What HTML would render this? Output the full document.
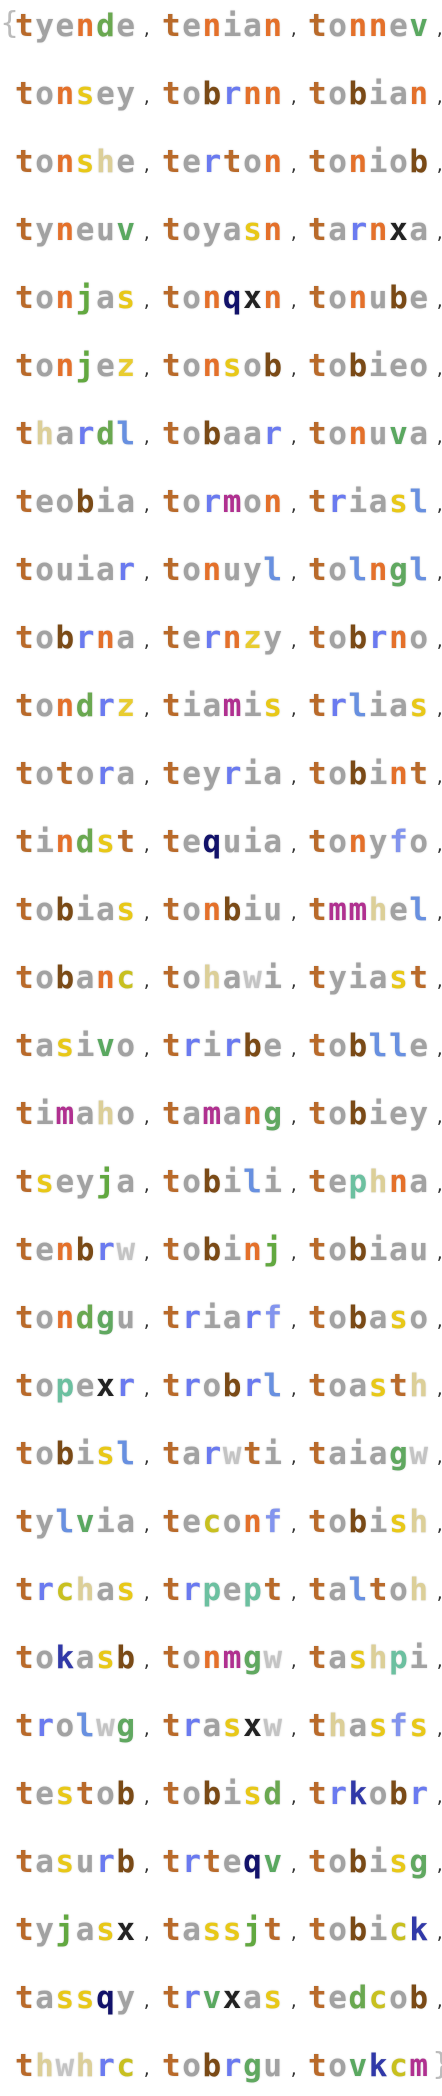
<!DOCTYPE html>
<html><head><meta charset="utf-8"><style>
html,body{margin:0;padding:0;background:#fff;width:442px;height:2096px;overflow:hidden}
body{position:relative;font-family:"DejaVu Sans Mono","Liberation Mono",monospace;font-weight:bold}
.row{position:absolute;left:0;width:442px;height:31px;font-size:31px;line-height:31px;white-space:pre}
.wd{position:absolute;top:0;letter-spacing:1.6px;text-shadow:0 0 2px #e4e4e4,0 0 1px #ddd}
.a1{left:15px}.a2{left:162px}.a3{left:308px}
.cm{position:absolute;top:3px;font-size:16px;color:#333;font-weight:normal}
.c1{left:142px}.c2{left:289px}.c3{left:435px}
.br{position:absolute;font-size:30px;color:#bbb;font-weight:normal;font-family:"DejaVu Sans",sans-serif}
.wd b{font-weight:bold}
.wd .t{color:#b96a2a}.wd .o,.wd .e,.wd .y,.wd .a,.wd .i,.wd .u{color:#a2a2a2}.wd .n{color:#e4702a}.wd .d{color:#6aa850}.wd .v{color:#5aa860}
.wd .s{color:#e8c818}.wd .z{color:#e8cc30}.wd .b{color:#7a4a16}.wd .r{color:#6a7af0}.wd .l{color:#6890e0}.wd .h{color:#dccf98}
.wd .j{color:#62a840}.wd .x{color:#222}.wd .q{color:#12126a}.wd .m{color:#b03090}.wd .g{color:#60a860}.wd .ww{color:#c4c4c4}
.wd .f{color:#8294ee}.wd .k{color:#3038a8}.wd .c{color:#c8c020}.wd .p{color:#6cc0a0}
</style></head><body>
<div class="br" style="left:0;top:6px">{</div>
<div class="br" style="left:432px;top:2047px">}</div>

<div class="row" style="top:11px"><span class="wd a1"><b class=t>t</b><b class=y>y</b><b class=e>e</b><b class=n>n</b><b class=d>d</b><b class=e>e</b></span><span class="cm c1">,</span><span class="wd a2"><b class=t>t</b><b class=e>e</b><b class=n>n</b><b class=i>i</b><b class=a>a</b><b class=n>n</b></span><span class="cm c2">,</span><span class="wd a3"><b class=t>t</b><b class=o>o</b><b class=n>n</b><b class=n>n</b><b class=e>e</b><b class=v>v</b></span><span class="cm c3">,</span></div>
<div class="row" style="top:79px"><span class="wd a1"><b class=t>t</b><b class=o>o</b><b class=n>n</b><b class=s>s</b><b class=e>e</b><b class=y>y</b></span><span class="cm c1">,</span><span class="wd a2"><b class=t>t</b><b class=o>o</b><b class=b>b</b><b class=r>r</b><b class=n>n</b><b class=n>n</b></span><span class="cm c2">,</span><span class="wd a3"><b class=t>t</b><b class=o>o</b><b class=b>b</b><b class=i>i</b><b class=a>a</b><b class=n>n</b></span><span class="cm c3">,</span></div>
<div class="row" style="top:147px"><span class="wd a1"><b class=t>t</b><b class=o>o</b><b class=n>n</b><b class=s>s</b><b class=h>h</b><b class=e>e</b></span><span class="cm c1">,</span><span class="wd a2"><b class=t>t</b><b class=e>e</b><b class=r>r</b><b class=t>t</b><b class=o>o</b><b class=n>n</b></span><span class="cm c2">,</span><span class="wd a3"><b class=t>t</b><b class=o>o</b><b class=n>n</b><b class=i>i</b><b class=o>o</b><b class=b>b</b></span><span class="cm c3">,</span></div>
<div class="row" style="top:215px"><span class="wd a1"><b class=t>t</b><b class=y>y</b><b class=n>n</b><b class=e>e</b><b class=u>u</b><b class=v>v</b></span><span class="cm c1">,</span><span class="wd a2"><b class=t>t</b><b class=o>o</b><b class=y>y</b><b class=a>a</b><b class=s>s</b><b class=n>n</b></span><span class="cm c2">,</span><span class="wd a3"><b class=t>t</b><b class=a>a</b><b class=r>r</b><b class=n>n</b><b class=x>x</b><b class=a>a</b></span><span class="cm c3">,</span></div>
<div class="row" style="top:283px"><span class="wd a1"><b class=t>t</b><b class=o>o</b><b class=n>n</b><b class=j>j</b><b class=a>a</b><b class=s>s</b></span><span class="cm c1">,</span><span class="wd a2"><b class=t>t</b><b class=o>o</b><b class=n>n</b><b class=q>q</b><b class=x>x</b><b class=n>n</b></span><span class="cm c2">,</span><span class="wd a3"><b class=t>t</b><b class=o>o</b><b class=n>n</b><b class=u>u</b><b class=b>b</b><b class=e>e</b></span><span class="cm c3">,</span></div>
<div class="row" style="top:351px"><span class="wd a1"><b class=t>t</b><b class=o>o</b><b class=n>n</b><b class=j>j</b><b class=e>e</b><b class=z>z</b></span><span class="cm c1">,</span><span class="wd a2"><b class=t>t</b><b class=o>o</b><b class=n>n</b><b class=s>s</b><b class=o>o</b><b class=b>b</b></span><span class="cm c2">,</span><span class="wd a3"><b class=t>t</b><b class=o>o</b><b class=b>b</b><b class=i>i</b><b class=e>e</b><b class=o>o</b></span><span class="cm c3">,</span></div>
<div class="row" style="top:419px"><span class="wd a1"><b class=t>t</b><b class=h>h</b><b class=a>a</b><b class=r>r</b><b class=d>d</b><b class=l>l</b></span><span class="cm c1">,</span><span class="wd a2"><b class=t>t</b><b class=o>o</b><b class=b>b</b><b class=a>a</b><b class=a>a</b><b class=r>r</b></span><span class="cm c2">,</span><span class="wd a3"><b class=t>t</b><b class=o>o</b><b class=n>n</b><b class=u>u</b><b class=v>v</b><b class=a>a</b></span><span class="cm c3">,</span></div>
<div class="row" style="top:487px"><span class="wd a1"><b class=t>t</b><b class=e>e</b><b class=o>o</b><b class=b>b</b><b class=i>i</b><b class=a>a</b></span><span class="cm c1">,</span><span class="wd a2"><b class=t>t</b><b class=o>o</b><b class=r>r</b><b class=m>m</b><b class=o>o</b><b class=n>n</b></span><span class="cm c2">,</span><span class="wd a3"><b class=t>t</b><b class=r>r</b><b class=i>i</b><b class=a>a</b><b class=s>s</b><b class=l>l</b></span><span class="cm c3">,</span></div>
<div class="row" style="top:555px"><span class="wd a1"><b class=t>t</b><b class=o>o</b><b class=u>u</b><b class=i>i</b><b class=a>a</b><b class=r>r</b></span><span class="cm c1">,</span><span class="wd a2"><b class=t>t</b><b class=o>o</b><b class=n>n</b><b class=u>u</b><b class=y>y</b><b class=l>l</b></span><span class="cm c2">,</span><span class="wd a3"><b class=t>t</b><b class=o>o</b><b class=l>l</b><b class=n>n</b><b class=g>g</b><b class=l>l</b></span><span class="cm c3">,</span></div>
<div class="row" style="top:623px"><span class="wd a1"><b class=t>t</b><b class=o>o</b><b class=b>b</b><b class=r>r</b><b class=n>n</b><b class=a>a</b></span><span class="cm c1">,</span><span class="wd a2"><b class=t>t</b><b class=e>e</b><b class=r>r</b><b class=n>n</b><b class=z>z</b><b class=y>y</b></span><span class="cm c2">,</span><span class="wd a3"><b class=t>t</b><b class=o>o</b><b class=b>b</b><b class=r>r</b><b class=n>n</b><b class=o>o</b></span><span class="cm c3">,</span></div>
<div class="row" style="top:691px"><span class="wd a1"><b class=t>t</b><b class=o>o</b><b class=n>n</b><b class=d>d</b><b class=r>r</b><b class=z>z</b></span><span class="cm c1">,</span><span class="wd a2"><b class=t>t</b><b class=i>i</b><b class=a>a</b><b class=m>m</b><b class=i>i</b><b class=s>s</b></span><span class="cm c2">,</span><span class="wd a3"><b class=t>t</b><b class=r>r</b><b class=l>l</b><b class=i>i</b><b class=a>a</b><b class=s>s</b></span><span class="cm c3">,</span></div>
<div class="row" style="top:759px"><span class="wd a1"><b class=t>t</b><b class=o>o</b><b class=t>t</b><b class=o>o</b><b class=r>r</b><b class=a>a</b></span><span class="cm c1">,</span><span class="wd a2"><b class=t>t</b><b class=e>e</b><b class=y>y</b><b class=r>r</b><b class=i>i</b><b class=a>a</b></span><span class="cm c2">,</span><span class="wd a3"><b class=t>t</b><b class=o>o</b><b class=b>b</b><b class=i>i</b><b class=n>n</b><b class=t>t</b></span><span class="cm c3">,</span></div>
<div class="row" style="top:827px"><span class="wd a1"><b class=t>t</b><b class=i>i</b><b class=n>n</b><b class=d>d</b><b class=s>s</b><b class=t>t</b></span><span class="cm c1">,</span><span class="wd a2"><b class=t>t</b><b class=e>e</b><b class=q>q</b><b class=u>u</b><b class=i>i</b><b class=a>a</b></span><span class="cm c2">,</span><span class="wd a3"><b class=t>t</b><b class=o>o</b><b class=n>n</b><b class=y>y</b><b class=f>f</b><b class=o>o</b></span><span class="cm c3">,</span></div>
<div class="row" style="top:895px"><span class="wd a1"><b class=t>t</b><b class=o>o</b><b class=b>b</b><b class=i>i</b><b class=a>a</b><b class=s>s</b></span><span class="cm c1">,</span><span class="wd a2"><b class=t>t</b><b class=o>o</b><b class=n>n</b><b class=b>b</b><b class=i>i</b><b class=u>u</b></span><span class="cm c2">,</span><span class="wd a3"><b class=t>t</b><b class=m>m</b><b class=m>m</b><b class=h>h</b><b class=e>e</b><b class=l>l</b></span><span class="cm c3">,</span></div>
<div class="row" style="top:963px"><span class="wd a1"><b class=t>t</b><b class=o>o</b><b class=b>b</b><b class=a>a</b><b class=n>n</b><b class=c>c</b></span><span class="cm c1">,</span><span class="wd a2"><b class=t>t</b><b class=o>o</b><b class=h>h</b><b class=a>a</b><b class=ww>w</b><b class=i>i</b></span><span class="cm c2">,</span><span class="wd a3"><b class=t>t</b><b class=y>y</b><b class=i>i</b><b class=a>a</b><b class=s>s</b><b class=t>t</b></span><span class="cm c3">,</span></div>
<div class="row" style="top:1031px"><span class="wd a1"><b class=t>t</b><b class=a>a</b><b class=s>s</b><b class=i>i</b><b class=v>v</b><b class=o>o</b></span><span class="cm c1">,</span><span class="wd a2"><b class=t>t</b><b class=r>r</b><b class=i>i</b><b class=r>r</b><b class=b>b</b><b class=e>e</b></span><span class="cm c2">,</span><span class="wd a3"><b class=t>t</b><b class=o>o</b><b class=b>b</b><b class=l>l</b><b class=l>l</b><b class=e>e</b></span><span class="cm c3">,</span></div>
<div class="row" style="top:1099px"><span class="wd a1"><b class=t>t</b><b class=i>i</b><b class=m>m</b><b class=a>a</b><b class=h>h</b><b class=o>o</b></span><span class="cm c1">,</span><span class="wd a2"><b class=t>t</b><b class=a>a</b><b class=m>m</b><b class=a>a</b><b class=n>n</b><b class=g>g</b></span><span class="cm c2">,</span><span class="wd a3"><b class=t>t</b><b class=o>o</b><b class=b>b</b><b class=i>i</b><b class=e>e</b><b class=y>y</b></span><span class="cm c3">,</span></div>
<div class="row" style="top:1167px"><span class="wd a1"><b class=t>t</b><b class=s>s</b><b class=e>e</b><b class=y>y</b><b class=j>j</b><b class=a>a</b></span><span class="cm c1">,</span><span class="wd a2"><b class=t>t</b><b class=o>o</b><b class=b>b</b><b class=i>i</b><b class=l>l</b><b class=i>i</b></span><span class="cm c2">,</span><span class="wd a3"><b class=t>t</b><b class=e>e</b><b class=p>p</b><b class=h>h</b><b class=n>n</b><b class=a>a</b></span><span class="cm c3">,</span></div>
<div class="row" style="top:1235px"><span class="wd a1"><b class=t>t</b><b class=e>e</b><b class=n>n</b><b class=b>b</b><b class=r>r</b><b class=ww>w</b></span><span class="cm c1">,</span><span class="wd a2"><b class=t>t</b><b class=o>o</b><b class=b>b</b><b class=i>i</b><b class=n>n</b><b class=j>j</b></span><span class="cm c2">,</span><span class="wd a3"><b class=t>t</b><b class=o>o</b><b class=b>b</b><b class=i>i</b><b class=a>a</b><b class=u>u</b></span><span class="cm c3">,</span></div>
<div class="row" style="top:1303px"><span class="wd a1"><b class=t>t</b><b class=o>o</b><b class=n>n</b><b class=d>d</b><b class=g>g</b><b class=u>u</b></span><span class="cm c1">,</span><span class="wd a2"><b class=t>t</b><b class=r>r</b><b class=i>i</b><b class=a>a</b><b class=r>r</b><b class=f>f</b></span><span class="cm c2">,</span><span class="wd a3"><b class=t>t</b><b class=o>o</b><b class=b>b</b><b class=a>a</b><b class=s>s</b><b class=o>o</b></span><span class="cm c3">,</span></div>
<div class="row" style="top:1371px"><span class="wd a1"><b class=t>t</b><b class=o>o</b><b class=p>p</b><b class=e>e</b><b class=x>x</b><b class=r>r</b></span><span class="cm c1">,</span><span class="wd a2"><b class=t>t</b><b class=r>r</b><b class=o>o</b><b class=b>b</b><b class=r>r</b><b class=l>l</b></span><span class="cm c2">,</span><span class="wd a3"><b class=t>t</b><b class=o>o</b><b class=a>a</b><b class=s>s</b><b class=t>t</b><b class=h>h</b></span><span class="cm c3">,</span></div>
<div class="row" style="top:1439px"><span class="wd a1"><b class=t>t</b><b class=o>o</b><b class=b>b</b><b class=i>i</b><b class=s>s</b><b class=l>l</b></span><span class="cm c1">,</span><span class="wd a2"><b class=t>t</b><b class=a>a</b><b class=r>r</b><b class=ww>w</b><b class=t>t</b><b class=i>i</b></span><span class="cm c2">,</span><span class="wd a3"><b class=t>t</b><b class=a>a</b><b class=i>i</b><b class=a>a</b><b class=g>g</b><b class=ww>w</b></span><span class="cm c3">,</span></div>
<div class="row" style="top:1507px"><span class="wd a1"><b class=t>t</b><b class=y>y</b><b class=l>l</b><b class=v>v</b><b class=i>i</b><b class=a>a</b></span><span class="cm c1">,</span><span class="wd a2"><b class=t>t</b><b class=e>e</b><b class=c>c</b><b class=o>o</b><b class=n>n</b><b class=f>f</b></span><span class="cm c2">,</span><span class="wd a3"><b class=t>t</b><b class=o>o</b><b class=b>b</b><b class=i>i</b><b class=s>s</b><b class=h>h</b></span><span class="cm c3">,</span></div>
<div class="row" style="top:1575px"><span class="wd a1"><b class=t>t</b><b class=r>r</b><b class=c>c</b><b class=h>h</b><b class=a>a</b><b class=s>s</b></span><span class="cm c1">,</span><span class="wd a2"><b class=t>t</b><b class=r>r</b><b class=p>p</b><b class=e>e</b><b class=p>p</b><b class=t>t</b></span><span class="cm c2">,</span><span class="wd a3"><b class=t>t</b><b class=a>a</b><b class=l>l</b><b class=t>t</b><b class=o>o</b><b class=h>h</b></span><span class="cm c3">,</span></div>
<div class="row" style="top:1643px"><span class="wd a1"><b class=t>t</b><b class=o>o</b><b class=k>k</b><b class=a>a</b><b class=s>s</b><b class=b>b</b></span><span class="cm c1">,</span><span class="wd a2"><b class=t>t</b><b class=o>o</b><b class=n>n</b><b class=m>m</b><b class=g>g</b><b class=ww>w</b></span><span class="cm c2">,</span><span class="wd a3"><b class=t>t</b><b class=a>a</b><b class=s>s</b><b class=h>h</b><b class=p>p</b><b class=i>i</b></span><span class="cm c3">,</span></div>
<div class="row" style="top:1711px"><span class="wd a1"><b class=t>t</b><b class=r>r</b><b class=o>o</b><b class=l>l</b><b class=ww>w</b><b class=g>g</b></span><span class="cm c1">,</span><span class="wd a2"><b class=t>t</b><b class=r>r</b><b class=a>a</b><b class=s>s</b><b class=x>x</b><b class=ww>w</b></span><span class="cm c2">,</span><span class="wd a3"><b class=t>t</b><b class=h>h</b><b class=a>a</b><b class=s>s</b><b class=f>f</b><b class=s>s</b></span><span class="cm c3">,</span></div>
<div class="row" style="top:1779px"><span class="wd a1"><b class=t>t</b><b class=e>e</b><b class=s>s</b><b class=t>t</b><b class=o>o</b><b class=b>b</b></span><span class="cm c1">,</span><span class="wd a2"><b class=t>t</b><b class=o>o</b><b class=b>b</b><b class=i>i</b><b class=s>s</b><b class=d>d</b></span><span class="cm c2">,</span><span class="wd a3"><b class=t>t</b><b class=r>r</b><b class=k>k</b><b class=o>o</b><b class=b>b</b><b class=r>r</b></span><span class="cm c3">,</span></div>
<div class="row" style="top:1847px"><span class="wd a1"><b class=t>t</b><b class=a>a</b><b class=s>s</b><b class=u>u</b><b class=r>r</b><b class=b>b</b></span><span class="cm c1">,</span><span class="wd a2"><b class=t>t</b><b class=r>r</b><b class=t>t</b><b class=e>e</b><b class=q>q</b><b class=v>v</b></span><span class="cm c2">,</span><span class="wd a3"><b class=t>t</b><b class=o>o</b><b class=b>b</b><b class=i>i</b><b class=s>s</b><b class=g>g</b></span><span class="cm c3">,</span></div>
<div class="row" style="top:1915px"><span class="wd a1"><b class=t>t</b><b class=y>y</b><b class=j>j</b><b class=a>a</b><b class=s>s</b><b class=x>x</b></span><span class="cm c1">,</span><span class="wd a2"><b class=t>t</b><b class=a>a</b><b class=s>s</b><b class=s>s</b><b class=j>j</b><b class=t>t</b></span><span class="cm c2">,</span><span class="wd a3"><b class=t>t</b><b class=o>o</b><b class=b>b</b><b class=i>i</b><b class=c>c</b><b class=k>k</b></span><span class="cm c3">,</span></div>
<div class="row" style="top:1983px"><span class="wd a1"><b class=t>t</b><b class=a>a</b><b class=s>s</b><b class=s>s</b><b class=q>q</b><b class=y>y</b></span><span class="cm c1">,</span><span class="wd a2"><b class=t>t</b><b class=r>r</b><b class=v>v</b><b class=x>x</b><b class=a>a</b><b class=s>s</b></span><span class="cm c2">,</span><span class="wd a3"><b class=t>t</b><b class=e>e</b><b class=d>d</b><b class=c>c</b><b class=o>o</b><b class=b>b</b></span><span class="cm c3">,</span></div>
<div class="row" style="top:2051px"><span class="wd a1"><b class=t>t</b><b class=h>h</b><b class=ww>w</b><b class=h>h</b><b class=r>r</b><b class=c>c</b></span><span class="cm c1">,</span><span class="wd a2"><b class=t>t</b><b class=o>o</b><b class=b>b</b><b class=r>r</b><b class=g>g</b><b class=u>u</b></span><span class="cm c2">,</span><span class="wd a3"><b class=t>t</b><b class=o>o</b><b class=v>v</b><b class=k>k</b><b class=c>c</b><b class=m>m</b></span></div>
</body></html>
